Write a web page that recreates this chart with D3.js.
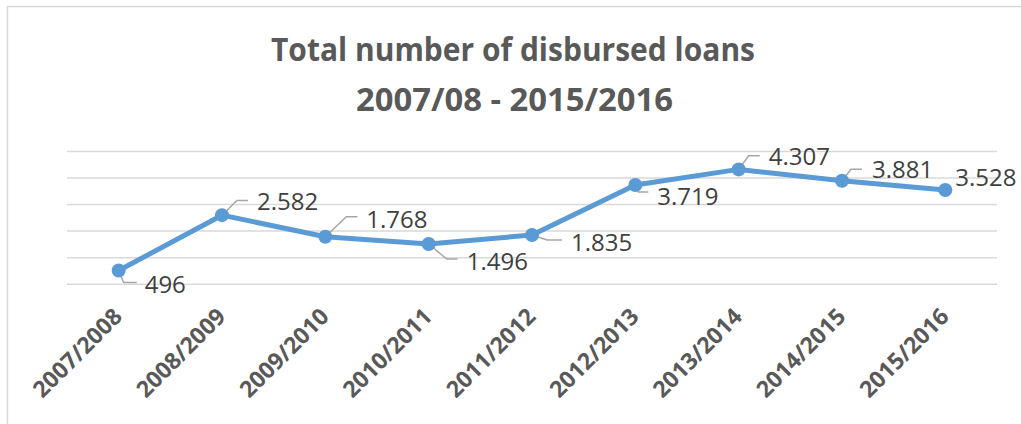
<!DOCTYPE html>
<html>
<head>
<meta charset="utf-8">
<script src="https://cdn.jsdelivr.net/npm/d3@7"></script>
<style>
  html, body { margin: 0; padding: 0; background: #ffffff; }
  svg { display: block; }
</style>
</head>
<body>
<svg id="chart" width="1021" height="424"></svg>
<script>
// Data
const seasons = ["2007/2008", "2008/2009", "2009/2010", "2010/2011", "2011/2012",
                 "2012/2013", "2013/2014", "2014/2015", "2015/2016"];
const loans = [496, 2582, 1768, 1496, 1835, 3719, 4307, 3881, 3528];
const yTicks = [0, 1000, 2000, 3000, 4000, 5000];
const titleLines = ["Total number of disbursed loans", "2007/08 - 2015/2016"];

// Data-label placement relative to each point: leader elbow, leader end, text start / baseline
const labelLayout = [
  { ex: 5,   ey: 12,    lx: 18,  tx: 26,  ty: 22 },
  { ex: 15,  ey: -14.7, lx: 26,  tx: 35,  ty: -5.4 },
  { ex: 21,  ey: -20,   lx: 32,  tx: 41,  ty: -9 },
  { ex: 18,  ey: 15,    lx: 29,  tx: 38,  ty: 26 },
  { ex: 15,  ey: 5,     lx: 30,  tx: 39,  ty: 16 },
  { ex: 3,   ey: 7,     lx: 13,  tx: 22,  ty: 20 },
  { ex: 10,  ey: -13.7, lx: 21,  tx: 30,  ty: -4.4 },
  { ex: 9,   ey: -11.5, lx: 20,  tx: 30,  ty: -3 },
  { ex: null, ey: null, lx: null, tx: 10, ty: -4.5 }
];

const svg = d3.select("#chart");

// Chart frame
svg.append("rect")
  .attr("x", 7.5).attr("y", 6.5)
  .attr("width", 1100).attr("height", 500)
  .attr("fill", "#ffffff")
  .attr("stroke", "#d9d9d9")
  .attr("stroke-width", 1.5);

// Title
const titleG = svg.append("g")
  .attr("font-family", "'Open Sans', sans-serif")
  .attr("font-weight", "bold")
  .attr("fill", "#595959")
  .attr("font-size", 32);
const titleSpecs = [
  { x: 513, y: 60.7, w: 484 },
  { x: 514.5, y: 110.7, w: 317 }
];
titleLines.forEach((t, i) => {
  titleG.append("text")
    .attr("x", titleSpecs[i].x - titleSpecs[i].w / 2)
    .attr("y", titleSpecs[i].y)
    .attr("textLength", titleSpecs[i].w)
    .attr("lengthAdjust", "spacingAndGlyphs")
    .text(t);
});

// Scales
const x = d3.scaleBand().domain(seasons).range([67, 997]).paddingInner(0).paddingOuter(0);
const y = d3.scaleLinear().domain([0, 5000]).range([283.7, 151]);
const cx = d => x(d) + x.bandwidth() / 2;

// Horizontal gridlines
const grid = svg.append("g")
  .attr("transform", "translate(67,0)")
  .call(d3.axisLeft(y).tickValues(yTicks).tickSize(-930).tickFormat(""));
grid.select(".domain").remove();
grid.selectAll(".tick line").attr("stroke", "#d9d9d9").attr("stroke-width", 1.5);

// Category axis with rotated labels
const xAxis = svg.append("g")
  .attr("transform", `translate(0,${y(0)})`)
  .call(d3.axisBottom(x).tickSize(0));
xAxis.select(".domain").remove();
xAxis.selectAll(".tick text")
  .attr("x", 0).attr("y", 0).attr("dy", 0)
  .attr("transform", "translate(5,34.3) rotate(-45)")
  .attr("text-anchor", "end")
  .attr("font-family", "'Open Sans', sans-serif")
  .attr("font-weight", "bold")
  .attr("font-size", 23)
  .attr("fill", "#595959");

// Series
const pts = seasons.map((s, i) => ({ s, v: loans[i], i }));

svg.append("path")
  .datum(pts)
  .attr("fill", "none")
  .attr("stroke", "#5b9bd5")
  .attr("stroke-width", 5)
  .attr("stroke-linejoin", "round")
  .attr("stroke-linecap", "round")
  .attr("d", d3.line().x(d => cx(d.s)).y(d => y(d.v)));

// Leader lines
const fmt = d3.formatLocale({ decimal: ",", thousands: ".", grouping: [3], currency: ["", ""] }).format(",d");

svg.append("g").selectAll("path")
  .data(pts.filter(d => labelLayout[d.i].ex !== null))
  .join("path")
  .attr("fill", "none")
  .attr("stroke", "#a6a6a6")
  .attr("stroke-width", 1.5)
  .attr("d", d => {
    const L = labelLayout[d.i], px = cx(d.s), py = y(d.v);
    return `M${px},${py}L${px + L.ex},${py + L.ey}L${px + L.lx},${py + L.ey}`;
  });

// Markers
svg.append("g").selectAll("circle")
  .data(pts)
  .join("circle")
  .attr("cx", d => cx(d.s))
  .attr("cy", d => y(d.v))
  .attr("r", 7)
  .attr("fill", "#5b9bd5");

// Data labels
svg.append("g")
  .attr("font-family", "'Open Sans', sans-serif")
  .attr("font-size", 24)
  .attr("fill", "#404040")
  .selectAll("text")
  .data(pts)
  .join("text")
  .attr("x", d => cx(d.s) + labelLayout[d.i].tx)
  .attr("y", d => y(d.v) + labelLayout[d.i].ty)
  .text(d => fmt(d.v));
</script>
</body>
</html>
